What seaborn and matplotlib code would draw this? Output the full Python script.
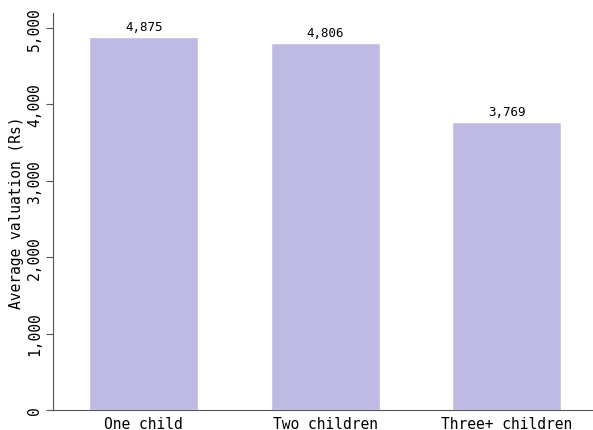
import seaborn as sns
import matplotlib.pyplot as plt
import pandas as pd

# values
groups = ["One child", "Two children", "Three+ children"]
avg_valuation = [4875, 4806, 3769]
yticks = [0, 1000, 2000, 3000, 4000, 5000]

df = pd.DataFrame({"group": groups, "value": avg_valuation})

sns.set_style("white")
plt.rcParams['font.family'] = ['DejaVu Sans Mono']
plt.rcParams['text.color'] = 'black'
plt.rcParams['xtick.color'] = 'black'
plt.rcParams['ytick.color'] = 'black'
plt.rcParams['axes.labelcolor'] = 'black'

fig = plt.figure(figsize=(5.93, 4.31), dpi=100)
ax = fig.add_axes([0.0894, 0.0464, 0.9106, 0.9211])

sns.barplot(data=df, x="group", y="value", color="#bfbae3", width=0.6,
            saturation=1, ax=ax)

for c in ax.containers:
    ax.bar_label(c, labels=[f"{v:,}" for v in avg_valuation], padding=3,
                 fontsize=9, color="black")

ax.set_xlim(-0.5, 2.475)
ax.set_ylim(0, 5195)
ax.set_yticks(yticks)
ax.set_yticklabels([f"{t:,}" for t in yticks], rotation=90, va="center")
ax.tick_params(axis="y", labelsize=10.5, left=True, length=5, pad=3,
               color="#555555")
ax.tick_params(axis="x", labelsize=10.5, bottom=False, pad=1)
ax.set_xlabel("")
ax.set_ylabel("Average valuation (Rs)", fontsize=10.5, labelpad=2)
sns.despine(ax=ax)
for s in ["left", "bottom"]:
    ax.spines[s].set_color("#555555")

fig.savefig("out.png", dpi=100)
